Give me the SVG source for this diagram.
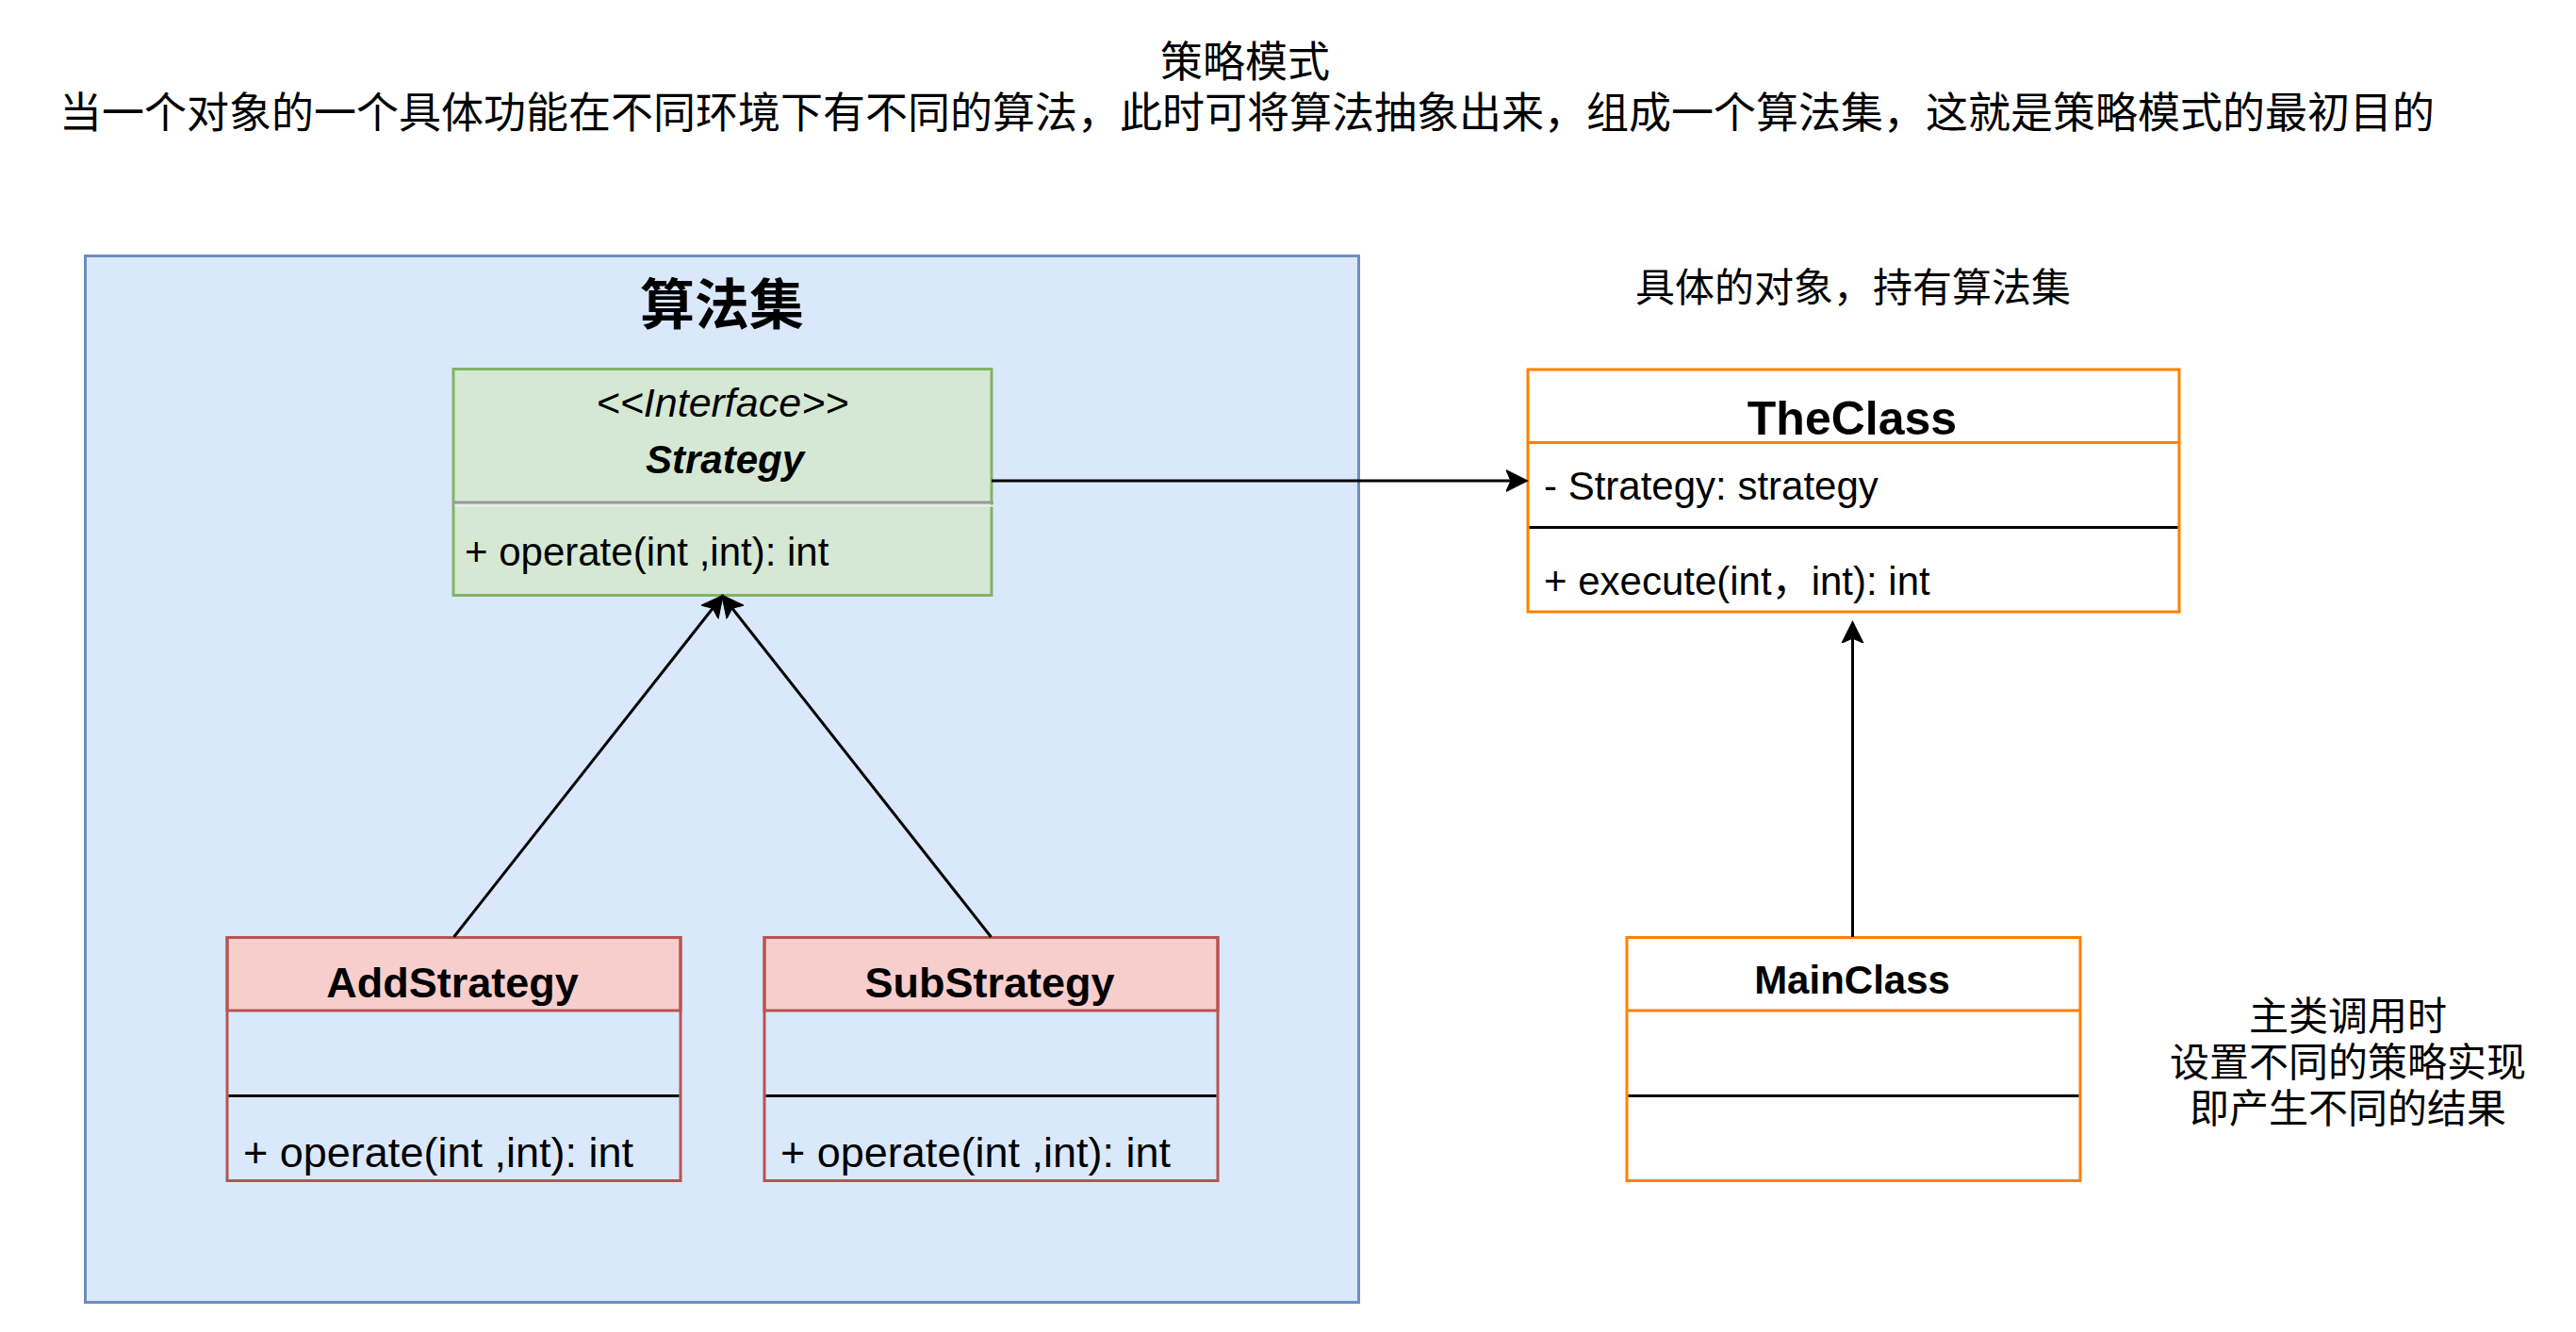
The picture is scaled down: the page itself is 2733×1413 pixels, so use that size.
<svg xmlns="http://www.w3.org/2000/svg" width="2733" height="1413" viewBox="0 0 2733 1413">
<defs>
<style>
text{font-family:"Liberation Sans","Noto Sans CJK SC",sans-serif;fill:#000}
.c{text-anchor:middle}
.b{font-weight:bold}
.box{stroke-width:3}
.sep{stroke:#000;stroke-width:3}
.edge{fill:none;stroke:#000;stroke-width:3}
</style>
<marker id="arr" markerUnits="userSpaceOnUse" markerWidth="24" markerHeight="24" refX="5" refY="11" orient="auto" viewBox="0 0 23 22">
<path d="M0,0 L22,11 L0,22 L5,11 Z" fill="#000" stroke="#000" stroke-width="1"/>
</marker>
</defs>
<rect x="0" y="0" width="2733" height="1413" fill="#fff"/>

<g id="title">
<text class="c" x="1321" y="82" font-size="45">策略模式</text>
<text class="c" x="1323" y="136" font-size="45">当一个对象的一个具体功能在不同环境下有不同的算法，此时可将算法抽象出来，组成一个算法集，这就是策略模式的最初目的</text>
</g>

<g id="algorithmSet">
<rect x="90.5" y="271.5" width="1351" height="1110" fill="#dae8fc" stroke="#6c8ebf" class="box"/>
<text class="c b" x="766" y="344" font-size="58">算法集</text>
</g>

<g id="Strategy">
<rect x="481" y="391.5" width="571" height="240" fill="#d5e8d4" stroke="#82b366" class="box"/>
<line x1="481" y1="533" x2="1054" y2="533" stroke="#999" stroke-width="3"/>
<line x1="482.5" y1="536.5" x2="1054" y2="536.5" stroke="#eeeeee" stroke-width="2"/>
<text class="c" x="766.5" y="442" font-size="43" font-style="italic">&lt;&lt;Interface&gt;&gt;</text>
<text class="c b" x="769" y="502" font-size="42" font-style="italic">Strategy</text>
<text x="493" y="600" font-size="42">+ operate(int ,int): int</text>
</g>

<g id="AddStrategy">
<rect x="241" y="994.5" width="481" height="77.5" fill="#f8cecc" stroke="#b85450" class="box"/>
<rect x="241" y="994.5" width="481" height="258" fill="none" stroke="#b85450" class="box"/>
<line x1="242.5" y1="1162.5" x2="720.5" y2="1162.5" class="sep"/>
<text class="c b" x="480" y="1058" font-size="45">AddStrategy</text>
<text x="258" y="1238" font-size="45">+ operate(int ,int): int</text>
</g>

<g id="SubStrategy">
<rect x="811" y="994.5" width="481" height="77.5" fill="#f8cecc" stroke="#b85450" class="box"/>
<rect x="811" y="994.5" width="481" height="258" fill="none" stroke="#b85450" class="box"/>
<line x1="812.5" y1="1162.5" x2="1290.5" y2="1162.5" class="sep"/>
<text class="c b" x="1050" y="1058" font-size="45">SubStrategy</text>
<text x="828" y="1238" font-size="45">+ operate(int ,int): int</text>
</g>

<g id="TheClass">
<text class="c" x="1966" y="320" font-size="42">具体的对象，持有算法集</text>
<rect x="1621" y="392" width="691" height="257" fill="#fff" stroke="#ff8000" class="box"/>
<line x1="1621" y1="469.5" x2="2312" y2="469.5" stroke="#ff8000" stroke-width="3"/>
<line x1="1622.5" y1="559.5" x2="2310.5" y2="559.5" class="sep"/>
<text class="c b" x="1965" y="461" font-size="50">TheClass</text>
<text x="1638" y="530" font-size="42">- Strategy: strategy</text>
<text x="1638" y="631" font-size="42">+ execute(int，int): int</text>
</g>

<g id="MainClass">
<rect x="1726" y="994.5" width="481" height="258" fill="#fff" stroke="#ff8000" class="box"/>
<line x1="1726" y1="1072" x2="2207" y2="1072" stroke="#ff8000" stroke-width="3"/>
<line x1="1727.5" y1="1162.5" x2="2205.5" y2="1162.5" class="sep"/>
<text class="c b" x="1965" y="1054" font-size="42">MainClass</text>
</g>

<g id="note">
<text class="c" x="2491" y="1093" font-size="42">主类调用时</text>
<text class="c" x="2491" y="1142" font-size="42">设置不同的策略实现</text>
<text class="c" x="2491" y="1191" font-size="42">即产生不同的结果</text>
</g>

<g id="connectors">
<path class="edge" d="M1052,510 L1603,510" marker-end="url(#arr)"/>
<path class="edge" d="M481.5,994 L756.2,645.2" marker-end="url(#arr)"/>
<path class="edge" d="M1051.5,994 L776.8,645.2" marker-end="url(#arr)"/>
<path class="edge" d="M1965.5,994 L1965.5,677" marker-end="url(#arr)"/>
</g>
</svg>
